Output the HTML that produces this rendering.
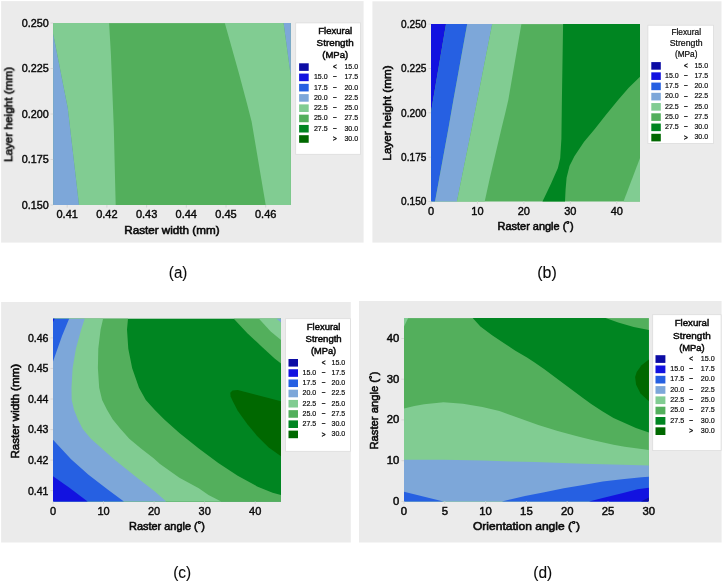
<!DOCTYPE html>
<html lang="en">
<head>
<meta charset="utf-8">
<title>Flexural strength contour plots</title>
<style>
html,body{margin:0;padding:0;background:#ffffff;}
body{width:723px;height:582px;overflow:hidden;}
svg{display:block;will-change:transform;transform:translateZ(0);}
svg text{font-family:"Liberation Sans", Arial, sans-serif;fill:#0a0a0a;}
</style>
</head>
<body>
<svg width="723" height="582" viewBox="0 0 723 582">
<rect x="1.10" y="1.10" width="362.50" height="241.50" fill="#ebebeb" />
<rect x="53.10" y="23.10" width="237.70" height="181.90" fill="#53af5c" />
<polygon points="53.1,23.1 109.1,23.1 110.9,54.0 113.8,128.0 115.7,205.0 79.0,205.0 67.8,108.2 53.1,33.4" fill="#81cc92" />
<polygon points="53.1,33.4 67.8,108.2 79.0,205.0 53.1,205.0" fill="#7da7d9" />
<polygon points="224.8,23.1 283.6,23.1 290.8,76.2 290.8,205.0 265.7,205.0 251.6,121.4 246.7,102.4 238.9,73.3" fill="#81cc92" />
<polygon points="283.6,23.1 290.8,23.1 290.8,76.2" fill="#7da7d9" />
<text x="48.80" y="26.70" font-size="11" text-anchor="end" textLength="27.00" lengthAdjust="spacingAndGlyphs" stroke="#0a0a0a" stroke-width="0.42" >0.250</text>
<text x="48.80" y="72.20" font-size="11" text-anchor="end" textLength="27.00" lengthAdjust="spacingAndGlyphs" stroke="#0a0a0a" stroke-width="0.42" >0.225</text>
<text x="48.80" y="117.70" font-size="11" text-anchor="end" textLength="27.00" lengthAdjust="spacingAndGlyphs" stroke="#0a0a0a" stroke-width="0.42" >0.200</text>
<text x="48.80" y="163.20" font-size="11" text-anchor="end" textLength="27.00" lengthAdjust="spacingAndGlyphs" stroke="#0a0a0a" stroke-width="0.42" >0.175</text>
<text x="48.80" y="208.70" font-size="11" text-anchor="end" textLength="27.00" lengthAdjust="spacingAndGlyphs" stroke="#0a0a0a" stroke-width="0.42" >0.150</text>
<text x="67.20" y="218.35" font-size="11" text-anchor="middle" stroke="#0a0a0a" stroke-width="0.42" >0.41</text>
<text x="106.90" y="218.35" font-size="11" text-anchor="middle" stroke="#0a0a0a" stroke-width="0.42" >0.42</text>
<text x="146.60" y="218.35" font-size="11" text-anchor="middle" stroke="#0a0a0a" stroke-width="0.42" >0.43</text>
<text x="186.30" y="218.35" font-size="11" text-anchor="middle" stroke="#0a0a0a" stroke-width="0.42" >0.44</text>
<text x="226.00" y="218.35" font-size="11" text-anchor="middle" stroke="#0a0a0a" stroke-width="0.42" >0.45</text>
<text x="265.70" y="218.35" font-size="11" text-anchor="middle" stroke="#0a0a0a" stroke-width="0.42" >0.46</text>
<line x1="67.2" y1="205.0" x2="67.2" y2="207.6" stroke="#d6d6d6" stroke-width="1"/>
<line x1="106.9" y1="205.0" x2="106.9" y2="207.6" stroke="#d6d6d6" stroke-width="1"/>
<line x1="146.6" y1="205.0" x2="146.6" y2="207.6" stroke="#d6d6d6" stroke-width="1"/>
<line x1="186.3" y1="205.0" x2="186.3" y2="207.6" stroke="#d6d6d6" stroke-width="1"/>
<line x1="226.0" y1="205.0" x2="226.0" y2="207.6" stroke="#d6d6d6" stroke-width="1"/>
<line x1="265.7" y1="205.0" x2="265.7" y2="207.6" stroke="#d6d6d6" stroke-width="1"/>
<line x1="50.5" y1="23.0" x2="53.1" y2="23.0" stroke="#d6d6d6" stroke-width="1"/>
<line x1="50.5" y1="68.5" x2="53.1" y2="68.5" stroke="#d6d6d6" stroke-width="1"/>
<line x1="50.5" y1="114.0" x2="53.1" y2="114.0" stroke="#d6d6d6" stroke-width="1"/>
<line x1="50.5" y1="159.5" x2="53.1" y2="159.5" stroke="#d6d6d6" stroke-width="1"/>
<line x1="50.5" y1="205.0" x2="53.1" y2="205.0" stroke="#d6d6d6" stroke-width="1"/>
<text x="171.90" y="233.60" font-size="11.2" text-anchor="middle" textLength="95.30" lengthAdjust="spacingAndGlyphs" stroke="#0a0a0a" stroke-width="0.58" >Raster width (mm)</text>
<text x="11.80" y="114.50" font-size="11.2" text-anchor="middle" textLength="95.30" lengthAdjust="spacingAndGlyphs" transform="rotate(-90 11.80 114.50)" stroke="#0a0a0a" stroke-width="0.58" >Layer height (mm)</text>
<rect x="295.70" y="22.90" width="64.70" height="131.40" fill="#ffffff" stroke="#dcdcdc" stroke-width="0.8"/>
<text x="335.20" y="34.40" font-size="8.6" text-anchor="middle" textLength="33.80" lengthAdjust="spacingAndGlyphs" stroke="#0a0a0a" stroke-width="0.45" >Flexural</text>
<text x="335.20" y="46.40" font-size="8.6" text-anchor="middle" textLength="37.20" lengthAdjust="spacingAndGlyphs" stroke="#0a0a0a" stroke-width="0.45" >Strength</text>
<text x="335.20" y="58.10" font-size="8.6" text-anchor="middle" textLength="25.80" lengthAdjust="spacingAndGlyphs" stroke="#0a0a0a" stroke-width="0.45" >(MPa)</text>
<rect x="299.10" y="63.30" width="9.60" height="7.60" fill="#0c0ca4" />
<text x="334.90" y="69.25" font-size="6.4" text-anchor="middle" stroke="#0a0a0a" stroke-width="0.4" >&lt;</text>
<text x="358.10" y="69.00" font-size="8.0" text-anchor="end" textLength="13.70" lengthAdjust="spacingAndGlyphs" stroke="#0a0a0a" stroke-width="0.2" >15.0</text>
<rect x="299.10" y="73.57" width="9.60" height="7.60" fill="#1212e0" />
<text x="313.90" y="79.27" font-size="8.0" text-anchor="start" textLength="13.70" lengthAdjust="spacingAndGlyphs" stroke="#0a0a0a" stroke-width="0.2" >15.0</text>
<text x="334.90" y="78.37" font-size="5.76" text-anchor="middle" stroke="#0a0a0a" stroke-width="0.4" >–</text>
<text x="358.10" y="79.27" font-size="8.0" text-anchor="end" textLength="13.70" lengthAdjust="spacingAndGlyphs" stroke="#0a0a0a" stroke-width="0.2" >17.5</text>
<rect x="299.10" y="83.84" width="9.60" height="7.60" fill="#2660e2" />
<text x="313.90" y="89.54" font-size="8.0" text-anchor="start" textLength="13.70" lengthAdjust="spacingAndGlyphs" stroke="#0a0a0a" stroke-width="0.2" >17.5</text>
<text x="334.90" y="88.64" font-size="5.76" text-anchor="middle" stroke="#0a0a0a" stroke-width="0.4" >–</text>
<text x="358.10" y="89.54" font-size="8.0" text-anchor="end" textLength="13.70" lengthAdjust="spacingAndGlyphs" stroke="#0a0a0a" stroke-width="0.2" >20.0</text>
<rect x="299.10" y="94.11" width="9.60" height="7.60" fill="#7da7d9" />
<text x="313.90" y="99.81" font-size="8.0" text-anchor="start" textLength="13.70" lengthAdjust="spacingAndGlyphs" stroke="#0a0a0a" stroke-width="0.2" >20.0</text>
<text x="334.90" y="98.91" font-size="5.76" text-anchor="middle" stroke="#0a0a0a" stroke-width="0.4" >–</text>
<text x="358.10" y="99.81" font-size="8.0" text-anchor="end" textLength="13.70" lengthAdjust="spacingAndGlyphs" stroke="#0a0a0a" stroke-width="0.2" >22.5</text>
<rect x="299.10" y="104.38" width="9.60" height="7.60" fill="#81cc92" />
<text x="313.90" y="110.08" font-size="8.0" text-anchor="start" textLength="13.70" lengthAdjust="spacingAndGlyphs" stroke="#0a0a0a" stroke-width="0.2" >22.5</text>
<text x="334.90" y="109.18" font-size="5.76" text-anchor="middle" stroke="#0a0a0a" stroke-width="0.4" >–</text>
<text x="358.10" y="110.08" font-size="8.0" text-anchor="end" textLength="13.70" lengthAdjust="spacingAndGlyphs" stroke="#0a0a0a" stroke-width="0.2" >25.0</text>
<rect x="299.10" y="114.65" width="9.60" height="7.60" fill="#53af5c" />
<text x="313.90" y="120.35" font-size="8.0" text-anchor="start" textLength="13.70" lengthAdjust="spacingAndGlyphs" stroke="#0a0a0a" stroke-width="0.2" >25.0</text>
<text x="334.90" y="119.45" font-size="5.76" text-anchor="middle" stroke="#0a0a0a" stroke-width="0.4" >–</text>
<text x="358.10" y="120.35" font-size="8.0" text-anchor="end" textLength="13.70" lengthAdjust="spacingAndGlyphs" stroke="#0a0a0a" stroke-width="0.2" >27.5</text>
<rect x="299.10" y="124.92" width="9.60" height="7.60" fill="#008521" />
<text x="313.90" y="130.62" font-size="8.0" text-anchor="start" textLength="13.70" lengthAdjust="spacingAndGlyphs" stroke="#0a0a0a" stroke-width="0.2" >27.5</text>
<text x="334.90" y="129.72" font-size="5.76" text-anchor="middle" stroke="#0a0a0a" stroke-width="0.4" >–</text>
<text x="358.10" y="130.62" font-size="8.0" text-anchor="end" textLength="13.70" lengthAdjust="spacingAndGlyphs" stroke="#0a0a0a" stroke-width="0.2" >30.0</text>
<rect x="299.10" y="135.19" width="9.60" height="7.60" fill="#006800" />
<text x="334.90" y="141.14" font-size="6.4" text-anchor="middle" stroke="#0a0a0a" stroke-width="0.4" >&gt;</text>
<text x="358.10" y="140.89" font-size="8.0" text-anchor="end" textLength="13.70" lengthAdjust="spacingAndGlyphs" stroke="#0a0a0a" stroke-width="0.2" >30.0</text>
<text x="178.10" y="278.00" font-size="16.3" text-anchor="middle" textLength="18.50" lengthAdjust="spacingAndGlyphs" stroke="#0a0a0a" stroke-width="0.1" >(a)</text>
<rect x="372.40" y="1.30" width="349.10" height="241.30" fill="#ebebeb" />
<rect x="431.00" y="24.10" width="209.00" height="177.40" fill="#53af5c" />
<polygon points="431.0,24.1 446.0,24.1 431.0,112.1" fill="#1212e0" />
<polygon points="446.0,24.1 467.2,24.1 453.4,100.0 448.5,128.0 435.0,201.5 431.0,201.5 431.0,112.1" fill="#2660e2" />
<polygon points="467.2,24.1 492.2,24.1 477.3,100.0 471.8,128.0 456.9,201.5 435.0,201.5 448.5,128.0 453.4,100.0" fill="#7da7d9" />
<polygon points="492.2,24.1 521.4,24.1 508.3,100.0 505.4,112.6 501.6,128.0 489.9,177.7 484.7,201.5 456.9,201.5 471.8,128.0 477.3,100.0" fill="#81cc92" />
<polygon points="563.1,24.1 640.0,24.1 640.0,76.7 628.7,87.8 618.1,100.0 605.4,115.5 594.8,129.1 584.1,141.7 574.4,156.3 569.5,166.0 566.6,177.7 565.6,189.3 565.0,201.5 542.5,201.5 551.1,183.5 557.9,168.0 560.2,158.3 561.4,138.8 561.9,100.0" fill="#008521" />
<polygon points="640.0,157.9 640.0,201.5 623.5,201.5" fill="#81cc92" />
<text x="426.40" y="27.90" font-size="10.9" text-anchor="end" textLength="25.30" lengthAdjust="spacingAndGlyphs" stroke="#0a0a0a" stroke-width="0.42" >0.250</text>
<text x="426.40" y="72.25" font-size="10.9" text-anchor="end" textLength="25.30" lengthAdjust="spacingAndGlyphs" stroke="#0a0a0a" stroke-width="0.42" >0.225</text>
<text x="426.40" y="116.60" font-size="10.9" text-anchor="end" textLength="25.30" lengthAdjust="spacingAndGlyphs" stroke="#0a0a0a" stroke-width="0.42" >0.200</text>
<text x="426.40" y="160.95" font-size="10.9" text-anchor="end" textLength="25.30" lengthAdjust="spacingAndGlyphs" stroke="#0a0a0a" stroke-width="0.42" >0.175</text>
<text x="426.40" y="205.30" font-size="10.9" text-anchor="end" textLength="25.30" lengthAdjust="spacingAndGlyphs" stroke="#0a0a0a" stroke-width="0.42" >0.150</text>
<text x="431.00" y="214.90" font-size="11" text-anchor="middle" stroke="#0a0a0a" stroke-width="0.42" >0</text>
<text x="477.44" y="214.90" font-size="11" text-anchor="middle" stroke="#0a0a0a" stroke-width="0.42" >10</text>
<text x="523.88" y="214.90" font-size="11" text-anchor="middle" stroke="#0a0a0a" stroke-width="0.42" >20</text>
<text x="570.32" y="214.90" font-size="11" text-anchor="middle" stroke="#0a0a0a" stroke-width="0.42" >30</text>
<text x="616.76" y="214.90" font-size="11" text-anchor="middle" stroke="#0a0a0a" stroke-width="0.42" >40</text>
<line x1="431.0" y1="201.5" x2="431.0" y2="204.1" stroke="#d6d6d6" stroke-width="1"/>
<line x1="477.4" y1="201.5" x2="477.4" y2="204.1" stroke="#d6d6d6" stroke-width="1"/>
<line x1="523.9" y1="201.5" x2="523.9" y2="204.1" stroke="#d6d6d6" stroke-width="1"/>
<line x1="570.3" y1="201.5" x2="570.3" y2="204.1" stroke="#d6d6d6" stroke-width="1"/>
<line x1="616.8" y1="201.5" x2="616.8" y2="204.1" stroke="#d6d6d6" stroke-width="1"/>
<line x1="428.4" y1="24.1" x2="431.0" y2="24.1" stroke="#d6d6d6" stroke-width="1"/>
<line x1="428.4" y1="68.5" x2="431.0" y2="68.5" stroke="#d6d6d6" stroke-width="1"/>
<line x1="428.4" y1="112.8" x2="431.0" y2="112.8" stroke="#d6d6d6" stroke-width="1"/>
<line x1="428.4" y1="157.2" x2="431.0" y2="157.2" stroke="#d6d6d6" stroke-width="1"/>
<line x1="428.4" y1="201.5" x2="431.0" y2="201.5" stroke="#d6d6d6" stroke-width="1"/>
<text x="535.60" y="230.20" font-size="11.2" text-anchor="middle" textLength="76.00" lengthAdjust="spacingAndGlyphs" stroke="#0a0a0a" stroke-width="0.58" >Raster angle (˚)</text>
<text x="391.20" y="113.00" font-size="11.2" text-anchor="middle" textLength="95.30" lengthAdjust="spacingAndGlyphs" transform="rotate(-90 391.20 113.00)" stroke="#0a0a0a" stroke-width="0.58" >Layer height (mm)</text>
<rect x="647.90" y="25.20" width="65.50" height="118.30" fill="#ffffff" stroke="#dcdcdc" stroke-width="0.8"/>
<text x="686.20" y="34.70" font-size="8.2" text-anchor="middle" textLength="29.60" lengthAdjust="spacingAndGlyphs" stroke="#0a0a0a" stroke-width="0.2" >Flexural</text>
<text x="686.20" y="45.90" font-size="8.2" text-anchor="middle" textLength="33.00" lengthAdjust="spacingAndGlyphs" stroke="#0a0a0a" stroke-width="0.2" >Strength</text>
<text x="686.20" y="56.90" font-size="8.2" text-anchor="middle" textLength="22.60" lengthAdjust="spacingAndGlyphs" stroke="#0a0a0a" stroke-width="0.2" >(MPa)</text>
<rect x="651.30" y="62.10" width="9.50" height="7.60" fill="#0c0ca4" />
<text x="685.90" y="67.95" font-size="6.4" text-anchor="middle" stroke="#0a0a0a" stroke-width="0.4" >&lt;</text>
<text x="708.10" y="67.70" font-size="8.0" text-anchor="end" textLength="13.70" lengthAdjust="spacingAndGlyphs" stroke="#0a0a0a" stroke-width="0.2" >15.0</text>
<rect x="651.30" y="72.34" width="9.50" height="7.60" fill="#1212e0" />
<text x="665.00" y="77.94" font-size="8.0" text-anchor="start" textLength="13.70" lengthAdjust="spacingAndGlyphs" stroke="#0a0a0a" stroke-width="0.2" >15.0</text>
<text x="685.90" y="77.04" font-size="5.76" text-anchor="middle" stroke="#0a0a0a" stroke-width="0.4" >–</text>
<text x="708.10" y="77.94" font-size="8.0" text-anchor="end" textLength="13.70" lengthAdjust="spacingAndGlyphs" stroke="#0a0a0a" stroke-width="0.2" >17.5</text>
<rect x="651.30" y="82.58" width="9.50" height="7.60" fill="#2660e2" />
<text x="665.00" y="88.18" font-size="8.0" text-anchor="start" textLength="13.70" lengthAdjust="spacingAndGlyphs" stroke="#0a0a0a" stroke-width="0.2" >17.5</text>
<text x="685.90" y="87.28" font-size="5.76" text-anchor="middle" stroke="#0a0a0a" stroke-width="0.4" >–</text>
<text x="708.10" y="88.18" font-size="8.0" text-anchor="end" textLength="13.70" lengthAdjust="spacingAndGlyphs" stroke="#0a0a0a" stroke-width="0.2" >20.0</text>
<rect x="651.30" y="92.82" width="9.50" height="7.60" fill="#7da7d9" />
<text x="665.00" y="98.42" font-size="8.0" text-anchor="start" textLength="13.70" lengthAdjust="spacingAndGlyphs" stroke="#0a0a0a" stroke-width="0.2" >20.0</text>
<text x="685.90" y="97.52" font-size="5.76" text-anchor="middle" stroke="#0a0a0a" stroke-width="0.4" >–</text>
<text x="708.10" y="98.42" font-size="8.0" text-anchor="end" textLength="13.70" lengthAdjust="spacingAndGlyphs" stroke="#0a0a0a" stroke-width="0.2" >22.5</text>
<rect x="651.30" y="103.06" width="9.50" height="7.60" fill="#81cc92" />
<text x="665.00" y="108.66" font-size="8.0" text-anchor="start" textLength="13.70" lengthAdjust="spacingAndGlyphs" stroke="#0a0a0a" stroke-width="0.2" >22.5</text>
<text x="685.90" y="107.76" font-size="5.76" text-anchor="middle" stroke="#0a0a0a" stroke-width="0.4" >–</text>
<text x="708.10" y="108.66" font-size="8.0" text-anchor="end" textLength="13.70" lengthAdjust="spacingAndGlyphs" stroke="#0a0a0a" stroke-width="0.2" >25.0</text>
<rect x="651.30" y="113.30" width="9.50" height="7.60" fill="#53af5c" />
<text x="665.00" y="118.90" font-size="8.0" text-anchor="start" textLength="13.70" lengthAdjust="spacingAndGlyphs" stroke="#0a0a0a" stroke-width="0.2" >25.0</text>
<text x="685.90" y="118.00" font-size="5.76" text-anchor="middle" stroke="#0a0a0a" stroke-width="0.4" >–</text>
<text x="708.10" y="118.90" font-size="8.0" text-anchor="end" textLength="13.70" lengthAdjust="spacingAndGlyphs" stroke="#0a0a0a" stroke-width="0.2" >27.5</text>
<rect x="651.30" y="123.54" width="9.50" height="7.60" fill="#008521" />
<text x="665.00" y="129.14" font-size="8.0" text-anchor="start" textLength="13.70" lengthAdjust="spacingAndGlyphs" stroke="#0a0a0a" stroke-width="0.2" >27.5</text>
<text x="685.90" y="128.24" font-size="5.76" text-anchor="middle" stroke="#0a0a0a" stroke-width="0.4" >–</text>
<text x="708.10" y="129.14" font-size="8.0" text-anchor="end" textLength="13.70" lengthAdjust="spacingAndGlyphs" stroke="#0a0a0a" stroke-width="0.2" >30.0</text>
<rect x="651.30" y="133.78" width="9.50" height="7.60" fill="#006800" />
<text x="685.90" y="139.63" font-size="6.4" text-anchor="middle" stroke="#0a0a0a" stroke-width="0.4" >&gt;</text>
<text x="708.10" y="139.38" font-size="8.0" text-anchor="end" textLength="13.70" lengthAdjust="spacingAndGlyphs" stroke="#0a0a0a" stroke-width="0.2" >30.0</text>
<text x="547.00" y="278.00" font-size="16.3" text-anchor="middle" textLength="19.50" lengthAdjust="spacingAndGlyphs" stroke="#0a0a0a" stroke-width="0.1" >(b)</text>
<rect x="1.10" y="302.00" width="349.70" height="240.50" fill="#ebebeb" />
<rect x="53.00" y="318.70" width="228.00" height="182.90" fill="#008521" />
<polygon points="53.0,318.7 128.0,318.7 127.0,329.4 128.3,348.8 132.2,368.3 139.0,387.7 145.8,400.0 154.6,409.7 164.3,419.4 179.4,433.0 198.8,448.5 218.3,463.1 237.7,475.7 257.1,486.4 272.6,492.8 281.0,495.1 281.0,501.6 53.0,501.6" fill="#53af5c" />
<polygon points="53.0,318.7 103.1,318.7 100.6,329.4 98.3,348.8 97.9,368.3 99.2,387.7 102.1,400.0 107.0,409.7 112.8,419.4 120.6,429.1 129.3,438.8 141.0,448.5 153.6,458.3 160.0,464.1 179.4,477.7 198.8,488.3 208.5,495.1 221.2,501.6 53.0,501.6" fill="#81cc92" />
<polygon points="53.0,318.7 84.7,318.7 81.2,329.4 75.9,348.8 72.6,368.3 71.5,387.7 71.7,400.0 74.0,409.7 77.9,419.4 82.7,429.1 90.9,438.8 112.8,458.3 137.1,477.7 154.6,491.3 166.2,501.6 53.0,501.6" fill="#7da7d9" />
<polygon points="53.0,318.7 69.1,318.7 62.0,336.0 53.0,361.5" fill="#2660e2" />
<polygon points="53.0,318.7 54.6,318.7 53.0,322.0" fill="#1212e0" />
<polygon points="53.0,439.8 71.1,459.2 88.5,474.8 108.0,489.7 123.9,501.6 53.0,501.6" fill="#2660e2" />
<polygon points="53.0,476.3 69.1,487.4 87.6,501.6 53.0,501.6" fill="#1212e0" />
<polygon points="233.8,318.7 247.4,333.3 261.0,345.9 274.6,358.5 281.0,363.4 281.0,318.7" fill="#53af5c" />
<polygon points="259.0,318.7 270.7,331.4 281.0,340.1 281.0,318.7" fill="#81cc92" />
<polygon points="276.5,318.7 281.0,322.6 281.0,318.7" fill="#7da7d9" />
<polygon points="230.3,392.8 232.5,390.6 237.7,390.0 281.0,401.3 281.0,456.3 268.7,447.6 257.1,435.9 247.4,424.3 237.7,410.7 232.8,401.3 230.6,396.5" fill="#006800" />
<text x="48.40" y="341.80" font-size="11" text-anchor="end" textLength="20.50" lengthAdjust="spacingAndGlyphs" stroke="#0a0a0a" stroke-width="0.42" >0.46</text>
<text x="48.40" y="372.35" font-size="11" text-anchor="end" textLength="20.50" lengthAdjust="spacingAndGlyphs" stroke="#0a0a0a" stroke-width="0.42" >0.45</text>
<text x="48.40" y="402.90" font-size="11" text-anchor="end" textLength="20.50" lengthAdjust="spacingAndGlyphs" stroke="#0a0a0a" stroke-width="0.42" >0.44</text>
<text x="48.40" y="433.45" font-size="11" text-anchor="end" textLength="20.50" lengthAdjust="spacingAndGlyphs" stroke="#0a0a0a" stroke-width="0.42" >0.43</text>
<text x="48.40" y="464.00" font-size="11" text-anchor="end" textLength="20.50" lengthAdjust="spacingAndGlyphs" stroke="#0a0a0a" stroke-width="0.42" >0.42</text>
<text x="48.40" y="494.55" font-size="11" text-anchor="end" textLength="20.50" lengthAdjust="spacingAndGlyphs" stroke="#0a0a0a" stroke-width="0.42" >0.41</text>
<text x="53.00" y="515.30" font-size="11" text-anchor="middle" stroke="#0a0a0a" stroke-width="0.42" >0</text>
<text x="103.55" y="515.30" font-size="11" text-anchor="middle" stroke="#0a0a0a" stroke-width="0.42" >10</text>
<text x="154.10" y="515.30" font-size="11" text-anchor="middle" stroke="#0a0a0a" stroke-width="0.42" >20</text>
<text x="204.65" y="515.30" font-size="11" text-anchor="middle" stroke="#0a0a0a" stroke-width="0.42" >30</text>
<text x="255.20" y="515.30" font-size="11" text-anchor="middle" stroke="#0a0a0a" stroke-width="0.42" >40</text>
<line x1="53.0" y1="501.6" x2="53.0" y2="504.2" stroke="#d6d6d6" stroke-width="1"/>
<line x1="103.5" y1="501.6" x2="103.5" y2="504.2" stroke="#d6d6d6" stroke-width="1"/>
<line x1="154.1" y1="501.6" x2="154.1" y2="504.2" stroke="#d6d6d6" stroke-width="1"/>
<line x1="204.6" y1="501.6" x2="204.6" y2="504.2" stroke="#d6d6d6" stroke-width="1"/>
<line x1="255.2" y1="501.6" x2="255.2" y2="504.2" stroke="#d6d6d6" stroke-width="1"/>
<line x1="50.4" y1="337.9" x2="53.0" y2="337.9" stroke="#d6d6d6" stroke-width="1"/>
<line x1="50.4" y1="368.4" x2="53.0" y2="368.4" stroke="#d6d6d6" stroke-width="1"/>
<line x1="50.4" y1="399.0" x2="53.0" y2="399.0" stroke="#d6d6d6" stroke-width="1"/>
<line x1="50.4" y1="429.6" x2="53.0" y2="429.6" stroke="#d6d6d6" stroke-width="1"/>
<line x1="50.4" y1="460.1" x2="53.0" y2="460.1" stroke="#d6d6d6" stroke-width="1"/>
<line x1="50.4" y1="490.6" x2="53.0" y2="490.6" stroke="#d6d6d6" stroke-width="1"/>
<text x="167.00" y="530.00" font-size="11.2" text-anchor="middle" textLength="76.00" lengthAdjust="spacingAndGlyphs" stroke="#0a0a0a" stroke-width="0.58" >Raster angle (˚)</text>
<text x="19.20" y="411.20" font-size="11.2" text-anchor="middle" textLength="94.60" lengthAdjust="spacingAndGlyphs" transform="rotate(-90 19.20 411.20)" stroke="#0a0a0a" stroke-width="0.58" >Raster width (mm)</text>
<rect x="285.60" y="318.70" width="64.80" height="132.60" fill="#ffffff" stroke="#dcdcdc" stroke-width="0.8"/>
<text x="323.60" y="330.20" font-size="8.6" text-anchor="middle" textLength="33.60" lengthAdjust="spacingAndGlyphs" stroke="#0a0a0a" stroke-width="0.45" >Flexural</text>
<text x="323.60" y="342.10" font-size="8.6" text-anchor="middle" textLength="36.20" lengthAdjust="spacingAndGlyphs" stroke="#0a0a0a" stroke-width="0.45" >Strength</text>
<text x="323.60" y="353.70" font-size="8.6" text-anchor="middle" textLength="25.20" lengthAdjust="spacingAndGlyphs" stroke="#0a0a0a" stroke-width="0.45" >(MPa)</text>
<rect x="288.50" y="359.00" width="9.50" height="7.60" fill="#0c0ca4" />
<text x="323.50" y="364.95" font-size="6.4" text-anchor="middle" stroke="#0a0a0a" stroke-width="0.4" >&lt;</text>
<text x="345.20" y="364.70" font-size="8.0" text-anchor="end" textLength="13.70" lengthAdjust="spacingAndGlyphs" stroke="#0a0a0a" stroke-width="0.2" >15.0</text>
<rect x="288.50" y="369.23" width="9.50" height="7.60" fill="#1212e0" />
<text x="302.50" y="374.93" font-size="8.0" text-anchor="start" textLength="13.70" lengthAdjust="spacingAndGlyphs" stroke="#0a0a0a" stroke-width="0.2" >15.0</text>
<text x="323.50" y="374.03" font-size="5.76" text-anchor="middle" stroke="#0a0a0a" stroke-width="0.4" >–</text>
<text x="345.20" y="374.93" font-size="8.0" text-anchor="end" textLength="13.70" lengthAdjust="spacingAndGlyphs" stroke="#0a0a0a" stroke-width="0.2" >17.5</text>
<rect x="288.50" y="379.46" width="9.50" height="7.60" fill="#2660e2" />
<text x="302.50" y="385.16" font-size="8.0" text-anchor="start" textLength="13.70" lengthAdjust="spacingAndGlyphs" stroke="#0a0a0a" stroke-width="0.2" >17.5</text>
<text x="323.50" y="384.26" font-size="5.76" text-anchor="middle" stroke="#0a0a0a" stroke-width="0.4" >–</text>
<text x="345.20" y="385.16" font-size="8.0" text-anchor="end" textLength="13.70" lengthAdjust="spacingAndGlyphs" stroke="#0a0a0a" stroke-width="0.2" >20.0</text>
<rect x="288.50" y="389.69" width="9.50" height="7.60" fill="#7da7d9" />
<text x="302.50" y="395.39" font-size="8.0" text-anchor="start" textLength="13.70" lengthAdjust="spacingAndGlyphs" stroke="#0a0a0a" stroke-width="0.2" >20.0</text>
<text x="323.50" y="394.49" font-size="5.76" text-anchor="middle" stroke="#0a0a0a" stroke-width="0.4" >–</text>
<text x="345.20" y="395.39" font-size="8.0" text-anchor="end" textLength="13.70" lengthAdjust="spacingAndGlyphs" stroke="#0a0a0a" stroke-width="0.2" >22.5</text>
<rect x="288.50" y="399.92" width="9.50" height="7.60" fill="#81cc92" />
<text x="302.50" y="405.62" font-size="8.0" text-anchor="start" textLength="13.70" lengthAdjust="spacingAndGlyphs" stroke="#0a0a0a" stroke-width="0.2" >22.5</text>
<text x="323.50" y="404.72" font-size="5.76" text-anchor="middle" stroke="#0a0a0a" stroke-width="0.4" >–</text>
<text x="345.20" y="405.62" font-size="8.0" text-anchor="end" textLength="13.70" lengthAdjust="spacingAndGlyphs" stroke="#0a0a0a" stroke-width="0.2" >25.0</text>
<rect x="288.50" y="410.15" width="9.50" height="7.60" fill="#53af5c" />
<text x="302.50" y="415.85" font-size="8.0" text-anchor="start" textLength="13.70" lengthAdjust="spacingAndGlyphs" stroke="#0a0a0a" stroke-width="0.2" >25.0</text>
<text x="323.50" y="414.95" font-size="5.76" text-anchor="middle" stroke="#0a0a0a" stroke-width="0.4" >–</text>
<text x="345.20" y="415.85" font-size="8.0" text-anchor="end" textLength="13.70" lengthAdjust="spacingAndGlyphs" stroke="#0a0a0a" stroke-width="0.2" >27.5</text>
<rect x="288.50" y="420.38" width="9.50" height="7.60" fill="#008521" />
<text x="302.50" y="426.08" font-size="8.0" text-anchor="start" textLength="13.70" lengthAdjust="spacingAndGlyphs" stroke="#0a0a0a" stroke-width="0.2" >27.5</text>
<text x="323.50" y="425.18" font-size="5.76" text-anchor="middle" stroke="#0a0a0a" stroke-width="0.4" >–</text>
<text x="345.20" y="426.08" font-size="8.0" text-anchor="end" textLength="13.70" lengthAdjust="spacingAndGlyphs" stroke="#0a0a0a" stroke-width="0.2" >30.0</text>
<rect x="288.50" y="430.61" width="9.50" height="7.60" fill="#006800" />
<text x="323.50" y="436.56" font-size="6.4" text-anchor="middle" stroke="#0a0a0a" stroke-width="0.4" >&gt;</text>
<text x="345.20" y="436.31" font-size="8.0" text-anchor="end" textLength="13.70" lengthAdjust="spacingAndGlyphs" stroke="#0a0a0a" stroke-width="0.2" >30.0</text>
<text x="182.20" y="577.90" font-size="16.3" text-anchor="middle" textLength="17.90" lengthAdjust="spacingAndGlyphs" stroke="#0a0a0a" stroke-width="0.1" >(c)</text>
<rect x="359.00" y="301.00" width="362.60" height="241.50" fill="#ebebeb" />
<rect x="404.00" y="318.10" width="244.90" height="183.30" fill="#53af5c" />
<polygon points="404.0,318.1 408.2,318.1 404.0,326.5" fill="#81cc92" />
<polygon points="472.7,318.1 480.4,326.5 492.1,335.2 503.7,343.0 515.4,350.8 527.0,357.6 535.0,362.8 544.4,369.2 563.8,383.8 583.3,398.3 591.2,403.9 602.3,411.2 613.5,417.9 624.7,422.9 635.9,427.9 648.9,432.4 648.9,330.0 633.7,327.1 618.2,322.6 605.6,318.1" fill="#008521" />
<polygon points="648.9,359.5 641.5,365.3 636.7,372.1 635.1,377.0 636.1,384.8 640.5,393.5 648.9,401.3" fill="#006800" />
<polygon points="404.0,408.6 414.4,406.1 424.1,404.2 443.5,402.2 463.0,403.8 482.4,407.0 499.4,411.1 518.8,417.9 538.3,425.0 557.7,430.9 577.1,436.3 591.2,439.7 602.3,442.2 613.5,444.7 624.7,446.7 635.9,448.3 648.9,449.9 648.9,501.4 404.0,501.4" fill="#81cc92" />
<polygon points="404.0,459.8 443.5,459.8 482.4,460.6 511.5,461.6 535.0,462.1 583.3,463.7 622.1,464.7 648.9,465.4 648.9,501.4 404.0,501.4" fill="#7da7d9" />
<polygon points="404.0,491.8 443.5,501.4 404.0,501.4" fill="#2660e2" />
<polygon points="501.8,501.4 525.0,496.1 544.4,492.2 563.8,488.3 583.3,485.0 602.7,481.6 622.1,479.2 641.5,477.3 648.9,476.7 648.9,501.4" fill="#2660e2" />
<polygon points="589.1,501.4 602.7,498.0 622.1,493.2 637.6,489.3 648.9,487.8 648.9,501.4" fill="#1212e0" />
<polygon points="641.0,501.4 648.9,497.6 648.9,501.4" fill="#0c0ca4" />
<text x="399.30" y="341.95" font-size="11.3" text-anchor="end" stroke="#0a0a0a" stroke-width="0.48" >40</text>
<text x="399.30" y="382.65" font-size="11.3" text-anchor="end" stroke="#0a0a0a" stroke-width="0.48" >30</text>
<text x="399.30" y="423.35" font-size="11.3" text-anchor="end" stroke="#0a0a0a" stroke-width="0.48" >20</text>
<text x="399.30" y="464.15" font-size="11.3" text-anchor="end" stroke="#0a0a0a" stroke-width="0.48" >10</text>
<text x="399.30" y="504.85" font-size="11.3" text-anchor="end" stroke="#0a0a0a" stroke-width="0.48" >0</text>
<text x="404.00" y="514.70" font-size="11.3" text-anchor="middle" stroke="#0a0a0a" stroke-width="0.48" >0</text>
<text x="444.80" y="514.70" font-size="11.3" text-anchor="middle" stroke="#0a0a0a" stroke-width="0.48" >5</text>
<text x="485.60" y="514.70" font-size="11.3" text-anchor="middle" stroke="#0a0a0a" stroke-width="0.48" >10</text>
<text x="526.40" y="514.70" font-size="11.3" text-anchor="middle" stroke="#0a0a0a" stroke-width="0.48" >15</text>
<text x="567.20" y="514.70" font-size="11.3" text-anchor="middle" stroke="#0a0a0a" stroke-width="0.48" >20</text>
<text x="608.00" y="514.70" font-size="11.3" text-anchor="middle" stroke="#0a0a0a" stroke-width="0.48" >25</text>
<text x="648.80" y="514.70" font-size="11.3" text-anchor="middle" stroke="#0a0a0a" stroke-width="0.48" >30</text>
<line x1="404.0" y1="501.4" x2="404.0" y2="504.0" stroke="#d6d6d6" stroke-width="1"/>
<line x1="444.8" y1="501.4" x2="444.8" y2="504.0" stroke="#d6d6d6" stroke-width="1"/>
<line x1="485.6" y1="501.4" x2="485.6" y2="504.0" stroke="#d6d6d6" stroke-width="1"/>
<line x1="526.4" y1="501.4" x2="526.4" y2="504.0" stroke="#d6d6d6" stroke-width="1"/>
<line x1="567.2" y1="501.4" x2="567.2" y2="504.0" stroke="#d6d6d6" stroke-width="1"/>
<line x1="608.0" y1="501.4" x2="608.0" y2="504.0" stroke="#d6d6d6" stroke-width="1"/>
<line x1="648.8" y1="501.4" x2="648.8" y2="504.0" stroke="#d6d6d6" stroke-width="1"/>
<line x1="401.4" y1="338.5" x2="404.0" y2="338.5" stroke="#d6d6d6" stroke-width="1"/>
<line x1="401.4" y1="379.2" x2="404.0" y2="379.2" stroke="#d6d6d6" stroke-width="1"/>
<line x1="401.4" y1="419.9" x2="404.0" y2="419.9" stroke="#d6d6d6" stroke-width="1"/>
<line x1="401.4" y1="460.7" x2="404.0" y2="460.7" stroke="#d6d6d6" stroke-width="1"/>
<line x1="401.4" y1="501.4" x2="404.0" y2="501.4" stroke="#d6d6d6" stroke-width="1"/>
<text x="526.50" y="530.00" font-size="11.2" text-anchor="middle" textLength="107.00" lengthAdjust="spacingAndGlyphs" stroke="#0a0a0a" stroke-width="0.58" >Orientation angle (˚)</text>
<text x="378.40" y="410.50" font-size="11.2" text-anchor="middle" textLength="78.00" lengthAdjust="spacingAndGlyphs" transform="rotate(-90 378.40 410.50)" stroke="#0a0a0a" stroke-width="0.58" >Raster angle (˚)</text>
<rect x="652.70" y="314.70" width="68.40" height="135.90" fill="#ffffff" stroke="#dcdcdc" stroke-width="0.8"/>
<text x="691.90" y="326.20" font-size="8.8" text-anchor="middle" textLength="34.40" lengthAdjust="spacingAndGlyphs" stroke="#0a0a0a" stroke-width="0.45" >Flexural</text>
<text x="691.90" y="338.60" font-size="8.8" text-anchor="middle" textLength="37.60" lengthAdjust="spacingAndGlyphs" stroke="#0a0a0a" stroke-width="0.45" >Strength</text>
<text x="691.90" y="350.70" font-size="8.8" text-anchor="middle" textLength="25.50" lengthAdjust="spacingAndGlyphs" stroke="#0a0a0a" stroke-width="0.45" >(MPa)</text>
<rect x="655.50" y="355.20" width="9.90" height="7.70" fill="#0c0ca4" />
<text x="691.20" y="360.95" font-size="6.48" text-anchor="middle" stroke="#0a0a0a" stroke-width="0.4" >&lt;</text>
<text x="714.80" y="360.70" font-size="8.1" text-anchor="end" textLength="14.00" lengthAdjust="spacingAndGlyphs" stroke="#0a0a0a" stroke-width="0.2" >15.0</text>
<rect x="655.50" y="365.50" width="9.90" height="7.70" fill="#1212e0" />
<text x="670.20" y="371.00" font-size="8.1" text-anchor="start" textLength="14.00" lengthAdjust="spacingAndGlyphs" stroke="#0a0a0a" stroke-width="0.2" >15.0</text>
<text x="691.20" y="370.10" font-size="5.832" text-anchor="middle" stroke="#0a0a0a" stroke-width="0.4" >–</text>
<text x="714.80" y="371.00" font-size="8.1" text-anchor="end" textLength="14.00" lengthAdjust="spacingAndGlyphs" stroke="#0a0a0a" stroke-width="0.2" >17.5</text>
<rect x="655.50" y="375.80" width="9.90" height="7.70" fill="#2660e2" />
<text x="670.20" y="381.30" font-size="8.1" text-anchor="start" textLength="14.00" lengthAdjust="spacingAndGlyphs" stroke="#0a0a0a" stroke-width="0.2" >17.5</text>
<text x="691.20" y="380.40" font-size="5.832" text-anchor="middle" stroke="#0a0a0a" stroke-width="0.4" >–</text>
<text x="714.80" y="381.30" font-size="8.1" text-anchor="end" textLength="14.00" lengthAdjust="spacingAndGlyphs" stroke="#0a0a0a" stroke-width="0.2" >20.0</text>
<rect x="655.50" y="386.10" width="9.90" height="7.70" fill="#7da7d9" />
<text x="670.20" y="391.60" font-size="8.1" text-anchor="start" textLength="14.00" lengthAdjust="spacingAndGlyphs" stroke="#0a0a0a" stroke-width="0.2" >20.0</text>
<text x="691.20" y="390.70" font-size="5.832" text-anchor="middle" stroke="#0a0a0a" stroke-width="0.4" >–</text>
<text x="714.80" y="391.60" font-size="8.1" text-anchor="end" textLength="14.00" lengthAdjust="spacingAndGlyphs" stroke="#0a0a0a" stroke-width="0.2" >22.5</text>
<rect x="655.50" y="396.40" width="9.90" height="7.70" fill="#81cc92" />
<text x="670.20" y="401.90" font-size="8.1" text-anchor="start" textLength="14.00" lengthAdjust="spacingAndGlyphs" stroke="#0a0a0a" stroke-width="0.2" >22.5</text>
<text x="691.20" y="401.00" font-size="5.832" text-anchor="middle" stroke="#0a0a0a" stroke-width="0.4" >–</text>
<text x="714.80" y="401.90" font-size="8.1" text-anchor="end" textLength="14.00" lengthAdjust="spacingAndGlyphs" stroke="#0a0a0a" stroke-width="0.2" >25.0</text>
<rect x="655.50" y="406.70" width="9.90" height="7.70" fill="#53af5c" />
<text x="670.20" y="412.20" font-size="8.1" text-anchor="start" textLength="14.00" lengthAdjust="spacingAndGlyphs" stroke="#0a0a0a" stroke-width="0.2" >25.0</text>
<text x="691.20" y="411.30" font-size="5.832" text-anchor="middle" stroke="#0a0a0a" stroke-width="0.4" >–</text>
<text x="714.80" y="412.20" font-size="8.1" text-anchor="end" textLength="14.00" lengthAdjust="spacingAndGlyphs" stroke="#0a0a0a" stroke-width="0.2" >27.5</text>
<rect x="655.50" y="417.00" width="9.90" height="7.70" fill="#008521" />
<text x="670.20" y="422.50" font-size="8.1" text-anchor="start" textLength="14.00" lengthAdjust="spacingAndGlyphs" stroke="#0a0a0a" stroke-width="0.2" >27.5</text>
<text x="691.20" y="421.60" font-size="5.832" text-anchor="middle" stroke="#0a0a0a" stroke-width="0.4" >–</text>
<text x="714.80" y="422.50" font-size="8.1" text-anchor="end" textLength="14.00" lengthAdjust="spacingAndGlyphs" stroke="#0a0a0a" stroke-width="0.2" >30.0</text>
<rect x="655.50" y="427.30" width="9.90" height="7.70" fill="#006800" />
<text x="691.20" y="433.05" font-size="6.48" text-anchor="middle" stroke="#0a0a0a" stroke-width="0.4" >&gt;</text>
<text x="714.80" y="432.80" font-size="8.1" text-anchor="end" textLength="14.00" lengthAdjust="spacingAndGlyphs" stroke="#0a0a0a" stroke-width="0.2" >30.0</text>
<text x="542.70" y="577.90" font-size="16.3" text-anchor="middle" textLength="18.90" lengthAdjust="spacingAndGlyphs" stroke="#0a0a0a" stroke-width="0.1" >(d)</text>
</svg>
</body>
</html>
